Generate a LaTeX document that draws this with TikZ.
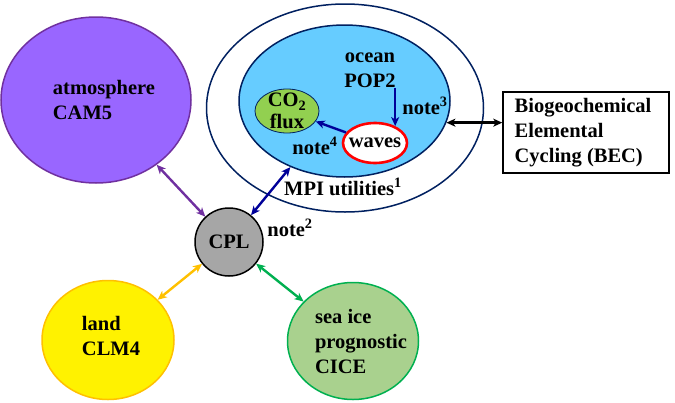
\documentclass[tikz,border=0pt]{standalone}
\usepackage{fontspec}
\setmainfont{Liberation Serif}
\usetikzlibrary{arrows.meta, shapes.geometric}
\definecolor{atmfill}{HTML}{9966FF}
\definecolor{atmline}{HTML}{7030A0}
\definecolor{oceanfill}{HTML}{66CCFF}
\definecolor{navyline}{HTML}{002060}
\definecolor{navyarrow}{HTML}{000099}
\definecolor{cofill}{HTML}{92D050}
\definecolor{landline}{HTML}{FFC000}
\definecolor{icefill}{HTML}{A9D18E}
\definecolor{iceline}{HTML}{00B050}
\definecolor{cplfill}{HTML}{A6A6A6}
\tikzset{
  blob/.style={ellipse, draw, line width=1.5pt, inner sep=0pt},
  lbl/.style={font=\fontsize{20.5}{25}\selectfont\bfseries, inner sep=0pt, align=left},
  link/.style={{Stealth[length=9pt,width=8pt,inset=2.5pt]}-{Stealth[length=9pt,width=8pt,inset=2.5pt]}, line width=2.4pt},
  oneway/.style={-{Stealth[length=9pt,width=8pt,inset=2.5pt]}, line width=2.4pt, navyarrow}
}
\begin{document}
\begin{tikzpicture}[x=1pt, y=-1pt]
\useasboundingbox (0,0) rectangle (675,402);

\node[blob, fill=atmfill, draw=atmline, minimum width=190pt, minimum height=166pt] (atm) at (96,100) {};
\node[lbl] (atmtxt) at (104,100) {atmosphere\\CAM5};

\node[blob, fill=white, draw=navyline, minimum width=277pt, minimum height=208pt] (outer) at (345,108) {};
\node[blob, fill=oceanfill, draw=navyline, minimum width=211pt, minimum height=152pt] (ocean) at (344.5,101) {};
\node[lbl, align=center] (oceantxt) at (370,70) {ocean\\POP2};
\node[blob, fill=cofill, draw=navyline, line width=0.8pt, minimum width=64pt, minimum height=44pt] (co2) at (287,111) {};
\node[lbl, align=center, font=\fontsize{20.5}{21.5}\selectfont\bfseries] (co2txt) at (287,111) {CO\textsubscript{2}\\flux};
\node[blob, fill=white, draw=red, line width=2.6pt, minimum width=64pt, minimum height=40pt] (waves) at (375,143) {};
\node[lbl] (wavestxt) at (375,143) {waves};

\node[lbl] (note3) at (425,106) {note\textsuperscript{3}};
\node[lbl] (note4) at (315,146) {note\textsuperscript{4}};
\node[lbl] (mpi) at (343,187) {MPI utilities\textsuperscript{1}};

\node[draw, line width=1.5pt, minimum width=166pt, minimum height=81pt, inner sep=0pt] (bec) at (586,132.5) {};
\node[lbl] (bectxt) at (583,132.5) {Biogeochemical\\Elemental\\Cycling (BEC)};

\node[circle, draw, fill=cplfill, line width=1.5pt, minimum size=68pt, inner sep=0pt] (cpl) at (229,242) {};
\node[lbl] (cpltxt) at (229,242) {CPL};
\node[lbl] (note2) at (290,228) {note\textsuperscript{2}};

\node[blob, fill=yellow, draw=landline, minimum width=132pt, minimum height=119pt] (land) at (108,340) {};
\node[lbl] (landtxt) at (111,336) {land\\CLM4};

\node[blob, fill=icefill, draw=iceline, minimum width=131pt, minimum height=117pt] (ice) at (353,341) {};
\node[lbl] (icetxt) at (361,341) {sea ice\\prognostic\\CICE};

\draw[link, atmline] (atm) -- (cpl);
\draw[link, landline] (land) -- (cpl);
\draw[link, iceline] (ice) -- (cpl);
\draw[link, navyarrow] (cpl) -- (ocean);
\draw[link, black] (ocean.-12) -- (ocean.-12 -| bec.west);
\draw[oneway] (waves.40 |- oceantxt.south) -- (waves.40);
\draw[oneway] (waves) -- (co2);
\end{tikzpicture}
\end{document}
